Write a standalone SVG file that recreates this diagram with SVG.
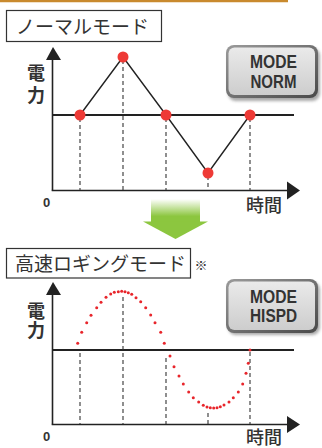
<svg xmlns="http://www.w3.org/2000/svg" width="322" height="448" viewBox="0 0 322 448">
<defs>
<linearGradient id="btn" x1="0" y1="0" x2="0" y2="1">
<stop offset="0" stop-color="#eaeaea"/>
<stop offset="1" stop-color="#cdcdcd"/>
</linearGradient>
<linearGradient id="btnEdge" x1="0" y1="0" x2="1" y2="1">
<stop offset="0" stop-color="#9a9a9a"/>
<stop offset="1" stop-color="#4a4a4a"/>
</linearGradient>
<linearGradient id="shaft" x1="0" y1="0" x2="0" y2="1">
<stop offset="0" stop-color="#ffffff"/>
<stop offset="0.75" stop-color="#8cc63f"/>
<stop offset="1" stop-color="#8cc63f"/>
</linearGradient>
<filter id="sh" x="-20%" y="-20%" width="150%" height="150%">
<feGaussianBlur stdDeviation="1.5"/>
</filter>
</defs>
<style>
.jp{font-family:"Noto Sans CJK JP","Noto Sans",sans-serif;fill:#333}
.title{font-size:19px}
.lbl{font-size:18px;font-weight:bold}
.vert{writing-mode:tb;letter-spacing:4px}
.zero{font-family:"Liberation Sans",Arial,sans-serif;font-size:13px;font-weight:bold;fill:#333}
.mode{font-family:"Liberation Sans",Arial,sans-serif;font-size:18.5px;font-weight:bold;fill:#333}
.box{fill:#fff;stroke:#333;stroke-width:1.2}
.axis{stroke:#222;stroke-width:1.6;fill:none}
.base{stroke:#222;stroke-width:2.2;fill:none}
.graph{stroke:#222;stroke-width:1.4;fill:none}
.dash{stroke:#333;stroke-width:1.1;stroke-dasharray:4 3;fill:none}
.pt{fill:#ee3a36}
.dot{fill:#e8252b}
.head{fill:#222}
</style>
<line x1="0" y1="1" x2="288" y2="1" stroke="#c98a2e" stroke-width="2.4"/>

<g id="title-normal">
<rect class="box" x="6.5" y="10.5" width="155" height="31"/>
<text class="jp title" x="16" y="34">ノーマルモード</text>
</g>

<g id="button-norm">
<rect x="228" y="48" width="92" height="53" rx="8" fill="#555" opacity="0.5" filter="url(#sh)"/>
<rect x="226" y="45" width="92" height="53" rx="8" fill="url(#btnEdge)"/>
<rect x="228.5" y="47.5" width="86.5" height="47.5" rx="6" fill="url(#btn)"/>
<text class="mode" x="250" y="68" textLength="47" lengthAdjust="spacingAndGlyphs">MODE</text>
<text class="mode" x="250.5" y="88" textLength="46" lengthAdjust="spacingAndGlyphs">NORM</text>
</g>

<g id="chart-normal">
<text class="jp lbl vert" x="36" y="64">電力</text>
<text class="zero" x="43" y="207">0</text>
<text class="jp lbl" x="246" y="212" style="font-weight:500">時間</text>
<g id="connectors-normal">
<line class="axis" x1="52.5" y1="59" x2="52.5" y2="190.5"/>
<line class="axis" x1="51.7" y1="190.5" x2="288" y2="190.5"/>
<polygon class="head" points="53,47 46,60 61,60"/>
<polygon class="head" points="300,190.5 287,181.5 287,199.5"/>
<line class="base" x1="52" y1="115" x2="294" y2="115"/>
<line class="dash" x1="80" y1="118" x2="80" y2="190"/>
<line class="dash" x1="123" y1="60" x2="123" y2="190"/>
<line class="dash" x1="166" y1="118" x2="166" y2="190"/>
<line class="dash" x1="208" y1="176" x2="208" y2="190"/>
<line class="dash" x1="250" y1="118" x2="250" y2="190"/>
<polyline class="graph" points="80,115 123,57 166,115 208,173 250,115"/>
</g>
<circle class="pt" cx="80" cy="115" r="5.5"/>
<circle class="pt" cx="123" cy="57" r="5.5"/>
<circle class="pt" cx="166" cy="115" r="5.5"/>
<circle class="pt" cx="208" cy="173" r="5.5"/>
<circle class="pt" cx="250" cy="115" r="5.5"/>
</g>

<g id="green-arrow">
<rect x="151" y="199" width="49" height="23" fill="url(#shaft)"/>
<polygon points="143,221.5 208,221.5 175.5,239" fill="#8cc63f"/>
</g>

<g id="title-hispd">
<rect class="box" x="6.5" y="248.5" width="184" height="29.5"/>
<text class="jp title" x="15" y="271">高速ロギングモード</text>
<text class="jp" x="194.5" y="270" style="font-size:13px">※</text>
</g>

<g id="button-hispd">
<rect x="228" y="282" width="92" height="53" rx="8" fill="#555" opacity="0.5" filter="url(#sh)"/>
<rect x="226" y="279" width="92" height="54" rx="8" fill="url(#btnEdge)"/>
<rect x="228.5" y="281.5" width="86.5" height="48.5" rx="6" fill="url(#btn)"/>
<text class="mode" x="250" y="303" textLength="47" lengthAdjust="spacingAndGlyphs">MODE</text>
<text class="mode" x="250" y="322" textLength="47" lengthAdjust="spacingAndGlyphs">HISPD</text>
</g>

<g id="chart-hispd">
<text class="jp lbl vert" x="36" y="302" style="letter-spacing:1px">電力</text>
<text class="zero" x="43" y="441">0</text>
<text class="jp lbl" x="246" y="444" style="font-weight:500">時間</text>
<g id="connectors-hispd">
<line class="axis" x1="52.5" y1="293" x2="52.5" y2="424.5"/>
<line class="axis" x1="51.7" y1="424.5" x2="288" y2="424.5"/>
<polygon class="head" points="53,282 46,295 61,295"/>
<polygon class="head" points="300,424.5 287,416 287,433"/>
<line class="base" x1="52" y1="350" x2="294" y2="350"/>
<line class="dash" x1="80" y1="353" x2="80" y2="424"/>
<line class="dash" x1="123" y1="297" x2="123" y2="424"/>
<line class="dash" x1="166" y1="358" x2="166" y2="424"/>
<line class="dash" x1="208" y1="413" x2="208" y2="424"/>
<line class="dash" x1="250" y1="352" x2="250" y2="424"/>
</g>
<g id="samples">
<circle class="dot" cx="77.7" cy="343.3" r="1.5"/>
<circle class="dot" cx="81.7" cy="332.3" r="1.5"/>
<circle class="dot" cx="86.7" cy="322.7" r="1.5"/>
<circle class="dot" cx="91" cy="315.3" r="1.5"/>
<circle class="dot" cx="96.7" cy="307.7" r="1.5"/>
<circle class="dot" cx="101" cy="302.3" r="1.5"/>
<circle class="dot" cx="106" cy="297.3" r="1.5"/>
<circle class="dot" cx="110.7" cy="294" r="1.5"/>
<circle class="dot" cx="114.3" cy="292.3" r="1.5"/>
<circle class="dot" cx="118.3" cy="291.7" r="1.5"/>
<circle class="dot" cx="121.7" cy="291.3" r="1.5"/>
<circle class="dot" cx="125" cy="291.7" r="1.5"/>
<circle class="dot" cx="128.3" cy="292.7" r="1.5"/>
<circle class="dot" cx="131.7" cy="294.3" r="1.5"/>
<circle class="dot" cx="136" cy="297.7" r="1.5"/>
<circle class="dot" cx="140.7" cy="301.7" r="1.5"/>
<circle class="dot" cx="145.7" cy="307.7" r="1.5"/>
<circle class="dot" cx="150.7" cy="315" r="1.5"/>
<circle class="dot" cx="155" cy="322.7" r="1.5"/>
<circle class="dot" cx="160.7" cy="332.3" r="1.5"/>
<circle class="dot" cx="164.3" cy="343.3" r="1.5"/>
<circle class="dot" cx="170" cy="356" r="1.5"/>
<circle class="dot" cx="174" cy="366.7" r="1.5"/>
<circle class="dot" cx="179" cy="376" r="1.5"/>
<circle class="dot" cx="183.3" cy="384" r="1.5"/>
<circle class="dot" cx="188.7" cy="392" r="1.5"/>
<circle class="dot" cx="193.3" cy="397.7" r="1.5"/>
<circle class="dot" cx="198.7" cy="402" r="1.5"/>
<circle class="dot" cx="203.3" cy="405.3" r="1.5"/>
<circle class="dot" cx="207" cy="407" r="1.5"/>
<circle class="dot" cx="210.3" cy="407.7" r="1.5"/>
<circle class="dot" cx="213.7" cy="408" r="1.5"/>
<circle class="dot" cx="217" cy="407.7" r="1.5"/>
<circle class="dot" cx="220.3" cy="406.7" r="1.5"/>
<circle class="dot" cx="224" cy="405" r="1.5"/>
<circle class="dot" cx="229" cy="402" r="1.5"/>
<circle class="dot" cx="233.3" cy="397.7" r="1.5"/>
<circle class="dot" cx="238.3" cy="392" r="1.5"/>
<circle class="dot" cx="242.7" cy="384" r="1.5"/>
<circle class="dot" cx="246" cy="373.3" r="1.5"/>
<circle class="dot" cx="248.3" cy="363.3" r="1.5"/>
<circle class="dot" cx="250" cy="350" r="1.5"/>
</g>
</g>
</svg>
